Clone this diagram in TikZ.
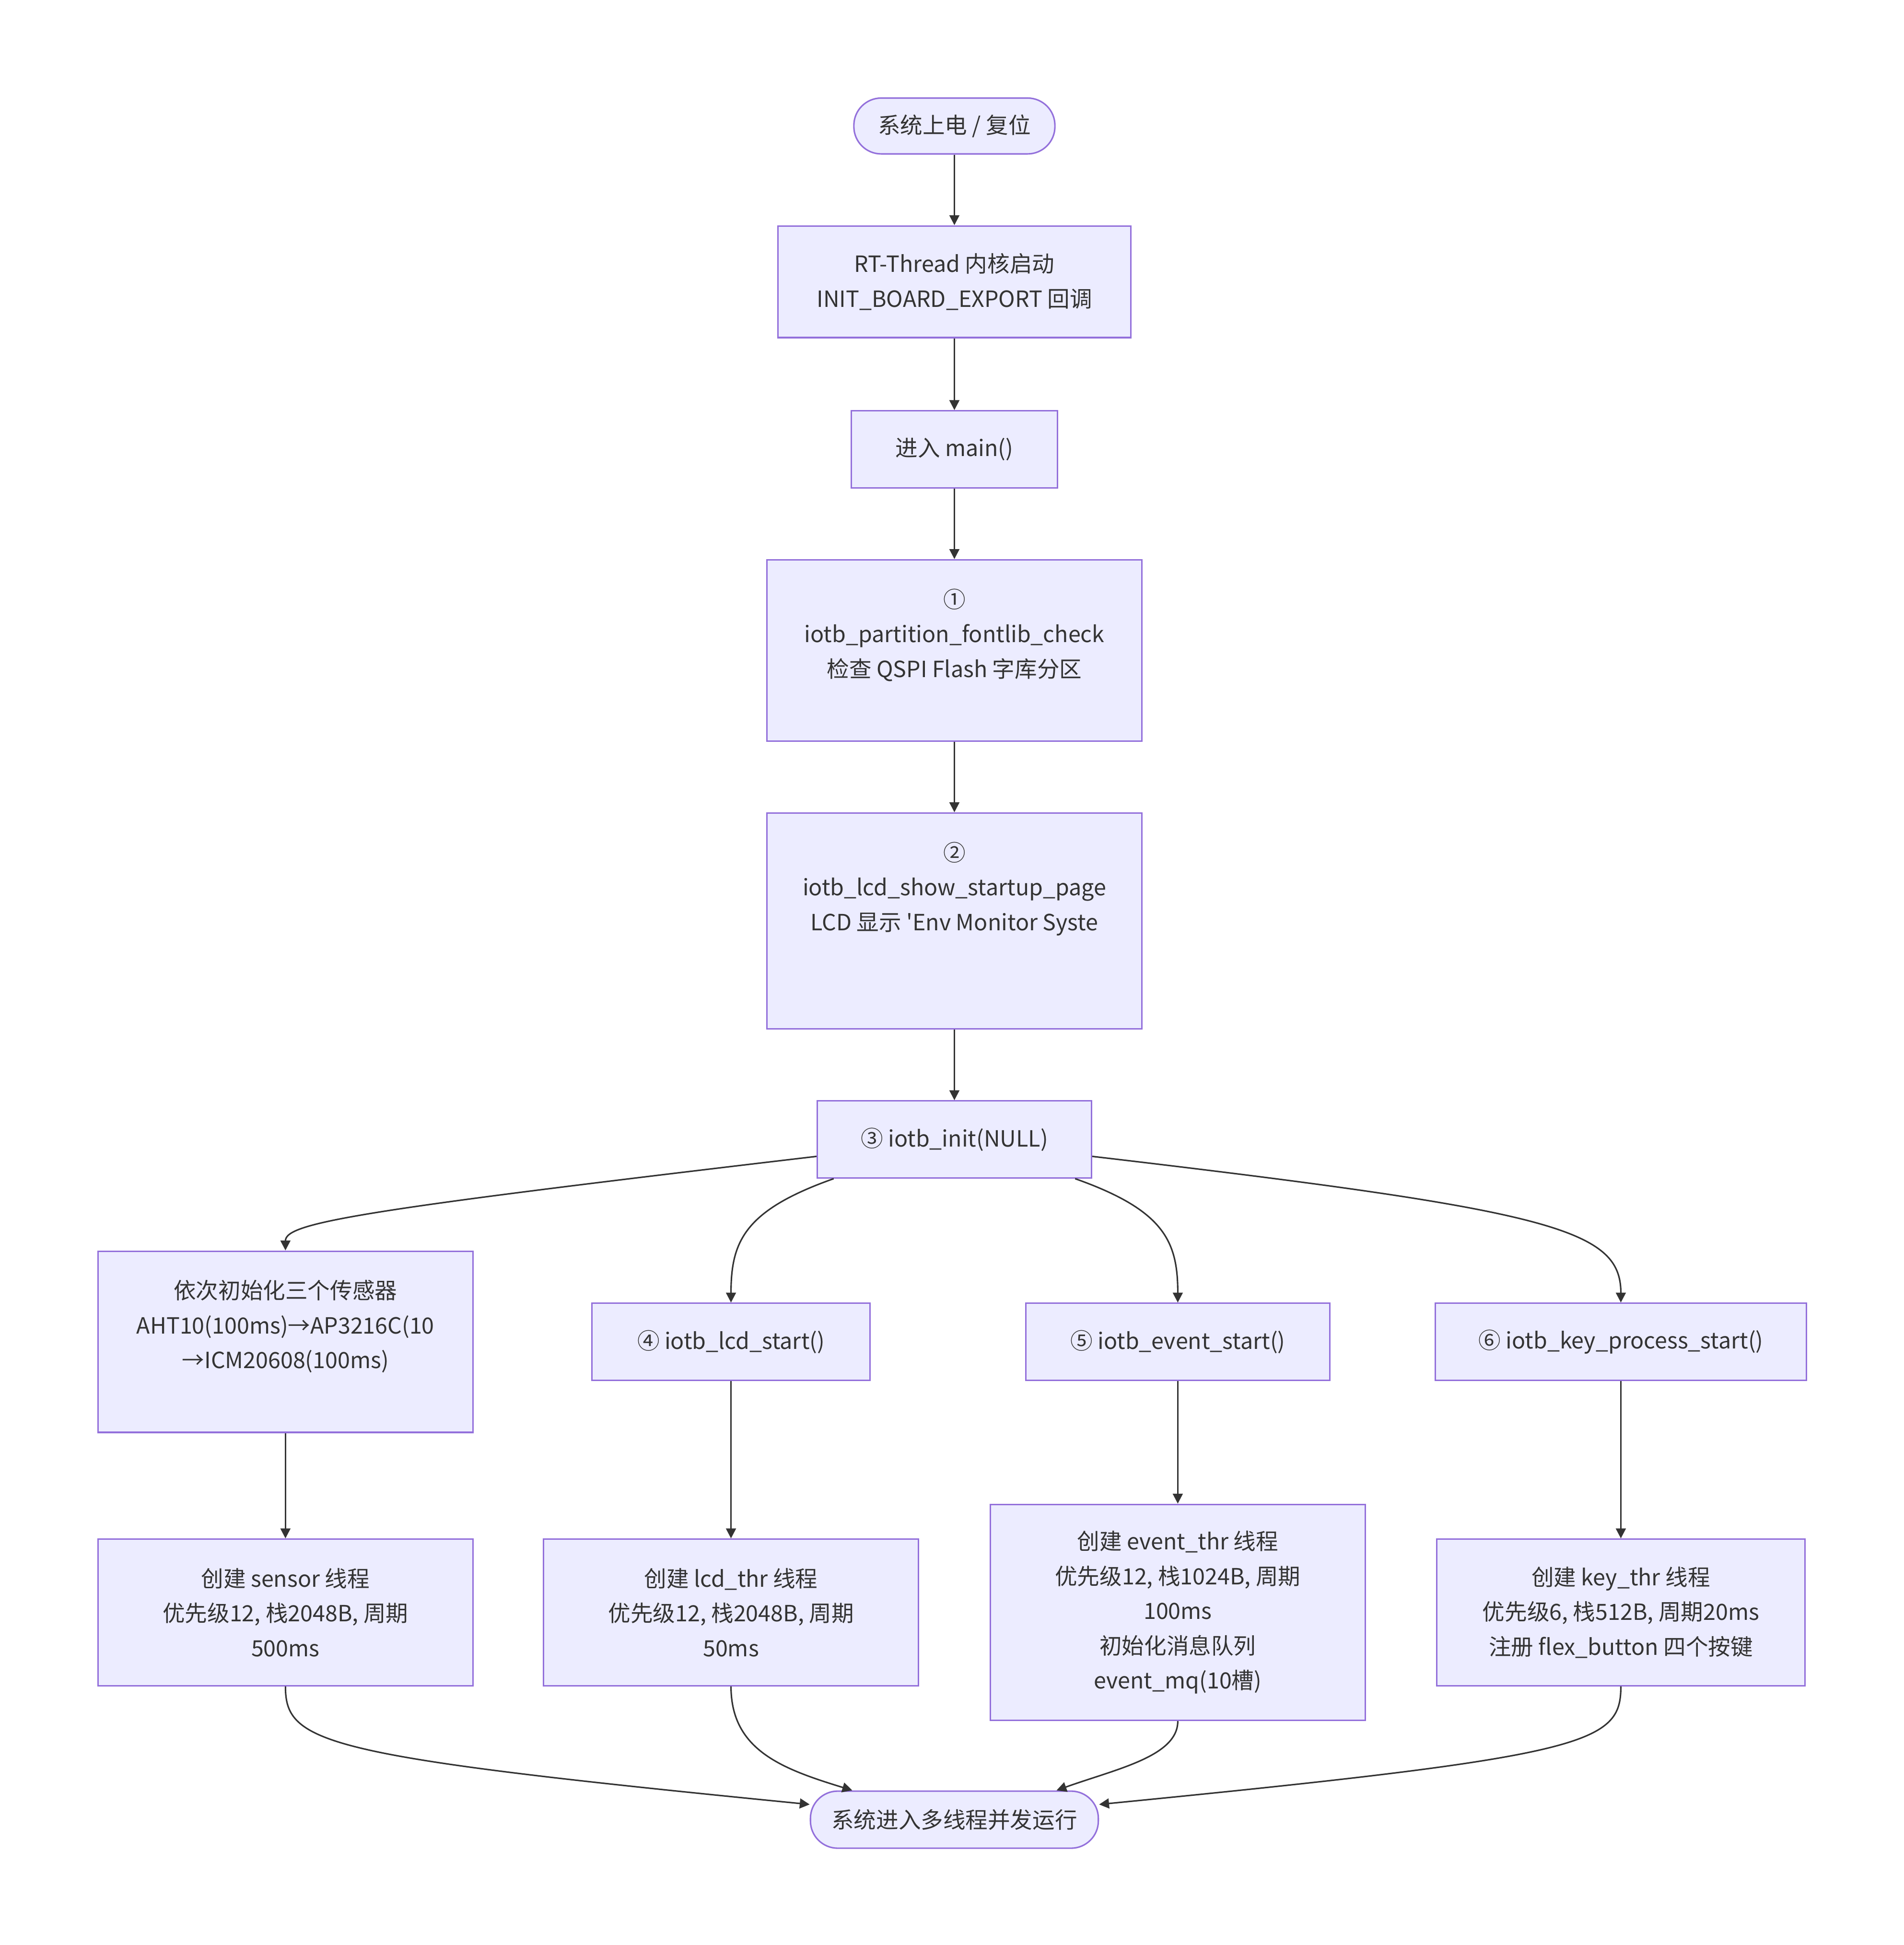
\documentclass[tikz,border=0pt]{standalone}
\usepackage{fontspec}
\setmainfont{Noto Sans CJK SC}[Ligatures=TeXOff]
\usetikzlibrary{arrows.meta}
\definecolor{boxfill}{HTML}{ECECFF}
\definecolor{boxline}{HTML}{9370DB}
\definecolor{ink}{HTML}{333333}

\begin{document}
\begin{tikzpicture}[x=0.5pt, y=-0.5pt,
  every node/.style={font=\fontsize{9}{14}\selectfont, text=ink, align=center, inner sep=0pt},
  box/.style={draw=boxline, fill=boxfill, line width=0.6pt},
  term/.style={box, rounded corners=11pt},
  flow/.style={draw=ink, line width=0.6pt, -{Triangle[length=4pt, width=4pt]}}]
  \useasboundingbox (0, 0) rectangle (1534, 1567);

  \draw (769, 101.5) node[term, minimum width=81pt, minimum height=22.5pt] (power) {系统上电 / 复位};
  \draw (769, 227) node[box, minimum width=142pt, minimum height=45pt] (rtboot) {RT-Thread 内核启动\\INIT\_BOARD\_EXPORT 回调};
  \draw (769, 362) node[box, minimum width=83pt, minimum height=31pt] (mainfn) {进入 main()};
  \draw (769, 524) node[box, minimum width=151pt, minimum height=73pt] (fontlib) {①\\iotb\_partition\_fontlib\_check\\检查 QSPI Flash 字库分区\\\mbox{}};
  \draw (769, 742) node[box, minimum width=151pt, minimum height=87pt] (startpage) {②\\iotb\_lcd\_show\_startup\_page\\LCD 显示 'Env Monitor Syste\\\mbox{}\\\mbox{}};
  \draw (769, 918) node[box, minimum width=110.5pt, minimum height=31pt] (init) {③ iotb\_init(NULL)};

  \draw (230, 1081) node[box, minimum width=151pt, minimum height=73pt] (sensors) {依次初始化三个传感器\\AHT10(100ms)→AP3216C(10\\→ICM20608(100ms)\\\mbox{}};
  \draw (589, 1081) node[box, minimum width=112pt, minimum height=31pt] (lcdstart) {④ iotb\_lcd\_start()};
  \draw (949, 1081) node[box, minimum width=122.5pt, minimum height=31pt] (eventstart) {⑤ iotb\_event\_start()};
  \draw (1306, 1081) node[box, minimum width=149.5pt, minimum height=31pt] (keystart) {⑥ iotb\_key\_process\_start()};

  \draw (230, 1299) node[box, minimum width=151pt, minimum height=59pt] (sensorthr) {创建 sensor 线程\\优先级12, 栈2048B, 周期\\500ms};
  \draw (589, 1299) node[box, minimum width=151pt, minimum height=59pt] (lcdthr) {创建 lcd\_thr 线程\\优先级12, 栈2048B, 周期\\50ms};
  \draw (949, 1299) node[box, minimum width=151pt, minimum height=87pt] (eventthr) {创建 event\_thr 线程\\优先级12, 栈1024B, 周期\\100ms\\初始化消息队列\\event\_mq(10槽)};
  \draw (1306, 1299) node[box, minimum width=148.5pt, minimum height=59pt] (keythr) {创建 key\_thr 线程\\优先级6, 栈512B, 周期20ms\\注册 flex\_button 四个按键};

  \draw (769, 1466) node[term, minimum width=116pt, minimum height=23pt] (running) {系统进入多线程并发运行};

  \draw [flow] (power) -- (rtboot);
  \draw [flow] (rtboot) -- (mainfn);
  \draw [flow] (mainfn) -- (fontlib);
  \draw [flow] (fontlib) -- (startpage);
  \draw [flow] (startpage) -- (init);

  \draw [flow] (init.187) .. controls (290, 975) and (230, 985) .. (sensors.north);
  \draw [flow] (init.198) .. controls (600, 975) and (589, 1000) .. (lcdstart.north);
  \draw [flow] (init.-18) .. controls (938, 975) and (949, 1000) .. (eventstart.north);
  \draw [flow] (init.-7) .. controls (1250, 975) and (1306, 990) .. (keystart.north);

  \draw [flow] (sensors) -- (sensorthr);
  \draw [flow] (lcdstart) -- (lcdthr);
  \draw [flow] (eventstart) -- (eventthr);
  \draw [flow] (keystart) -- (keythr);

  \draw [flow] (sensorthr.south) .. controls (230, 1405) and (260, 1415) .. (running.174);
  \draw [flow] (lcdthr.south) .. controls (589, 1410) and (630, 1425) .. (running.164);
  \draw [flow] (eventthr.south) .. controls (949, 1415) and (900, 1425) .. (running.16);
  \draw [flow] (keythr.south) .. controls (1306, 1405) and (1280, 1415) .. (running.6);
\end{tikzpicture}
\end{document}
